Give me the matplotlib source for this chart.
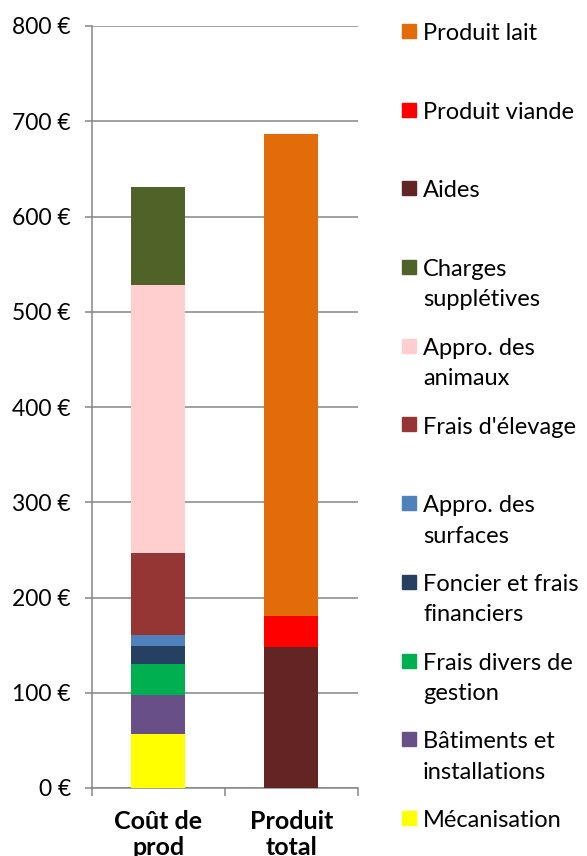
import matplotlib
matplotlib.use("Agg")
import matplotlib.pyplot as plt
from matplotlib.patches import Rectangle

plt.rcParams['font.family'] = ['Lato', 'DejaVu Sans']

categories = ["Coût de\nprod", "Produit\ntotal"]

# Cost components (bottom to top) for "Coût de prod"
cost_labels = ["Mécanisation", "Bâtiments et\ninstallations", "Frais divers de\ngestion",
               "Foncier et frais\nfinanciers", "Appro. des\nsurfaces", "Frais d'élevage",
               "Appro. des\nanimaux", "Charges\nsupplétives"]
cost_values = [57, 41, 32, 19, 12, 86, 281, 103]
cost_colors = ["#FFFF00", "#694F88", "#00B050", "#254061", "#4F81BD", "#963634",
               "#FFCFCF", "#4F6228"]

# Product components (bottom to top) for "Produit total"
prod_labels = ["Aides", "Produit viande", "Produit lait"]
prod_values = [148, 33, 506]
prod_colors = ["#632523", "#FF0000", "#E36C0A"]

yticks = [0, 100, 200, 300, 400, 500, 600, 700, 800]
ytick_labels = ["0 €", "100 €", "200 €", "300 €", "400 €", "500 €", "600 €", "700 €", "800 €"]

W, H = 587, 856
fig = plt.figure(figsize=(W / 100, H / 100), dpi=100)
ax = fig.add_axes([91.7 / W, 1 - 788 / H, 266 / W, 762 / H])

grid_col = "#868686"
bar_w = 0.406

bottom = 0
for v, c in zip(cost_values, cost_colors):
    ax.bar(0, v, bottom=bottom, width=bar_w, color=c, zorder=3)
    bottom += v
bottom = 0
for v, c in zip(prod_values, prod_colors):
    ax.bar(1, v, bottom=bottom, width=bar_w, color=c, zorder=3)
    bottom += v

ax.set_xlim(-0.5, 1.5)
ax.set_ylim(0, 800)
ax.set_yticks(yticks)
ax.set_yticklabels(ytick_labels, fontsize=16.5)
ax.yaxis.grid(True, color=grid_col, linewidth=1.1, zorder=0)
ax.tick_params(axis='y', length=5, width=1.1, color=grid_col, pad=10)

ax.set_xticks([0, 1])
ax.set_xticklabels(categories, fontsize=18, fontweight='bold', linespacing=1.15)
ax.set_xticks([-0.5, 0.5, 1.5], minor=True)
ax.tick_params(axis='x', which='major', length=0, pad=16)
ax.tick_params(axis='x', which='minor', length=6, width=1.1, color=grid_col)

for s in ['top', 'right']:
    ax.spines[s].set_visible(False)
for s in ['left', 'bottom']:
    ax.spines[s].set_color(grid_col)
    ax.spines[s].set_linewidth(1.1)

# Legend (manual, Excel-like equal spacing)
leg_labels = prod_labels[::-1] + cost_labels[::-1]
leg_colors = prod_colors[::-1] + cost_colors[::-1]
y0, dy = 31, 78.7
for i, (lab, col) in enumerate(zip(leg_labels, leg_colors)):
    yc = y0 + i * dy
    fig.patches.append(Rectangle((402 / W, 1 - (yc + 7) / H), 14 / W, 14 / H,
                                 transform=fig.transFigure, color=col, figure=fig))
    fig.text(423 / W, 1 - (yc - 8) / H, lab, fontsize=17, va='top', ha='left',
             linespacing=1.55)

fig.savefig("out.png", dpi=100)
